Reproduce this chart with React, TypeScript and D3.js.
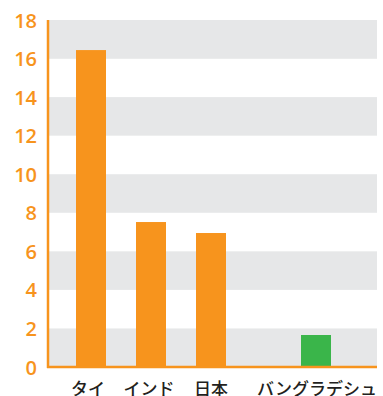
import React from "react";
import * as d3 from "d3";

const categories = ["タイ", "インド", "日本", "バングラデシュ"];
const values = [16.44, 7.52, 6.95, 1.66];
const barColors = ["#F7941D", "#F7941D", "#F7941D", "#3AB54A"];
const yTicks = [0, 2, 4, 6, 8, 10, 12, 14, 16, 18];

const W = 383;
const H = 396;
const left = 48;
const right = 377;
const top = 20;
const bottom = 367;

export default function App() {
  const y = d3.scaleLinear().domain([0, 18]).range([bottom, top]);
  // slot positions: first three evenly spaced, last one offset to leave room for long label
  const slots = [0, 1, 2, 3.75];
  const x = d3.scaleLinear().domain([0, 1]).range([91, 151]);
  const barW = 30;
  const bands = d3.range(0, 18, 4);
  const orange = "#F7941D";
  return (
    <svg width={W} height={H} style={{ position: "absolute", left: 0, top: 0 }}>
      <rect x={0} y={0} width={W} height={H} fill="#fff" />
      {bands.map((b) => (
        <rect key={b} x={left} y={y(b + 2)} width={right - left} height={y(b) - y(b + 2)} fill="#E6E7E8" />
      ))}
      <rect x={left} y={y(18)} width={right - left} height={y(16) - y(18)} fill="#E6E7E8" />
      {categories.map((c, i) => (
        <rect
          key={c}
          x={x(slots[i]) - barW / 2}
          y={y(values[i])}
          width={barW}
          height={y(0) - y(values[i])}
          fill={barColors[i]}
        />
      ))}
      <line x1={left} x2={left} y1={top} y2={bottom + 1} stroke={orange} strokeWidth={2.5} />
      <line x1={left - 1} x2={right} y1={bottom} y2={bottom} stroke={orange} strokeWidth={2.5} />
      {yTicks.map((t) => (
        <text
          key={t}
          x={37}
          y={y(t)}
          textAnchor="end"
          dominantBaseline="central"
          fill={orange}
          fontFamily="'Open Sans', sans-serif"
          fontSize={20}
          fontWeight={600}
        >
          {t}
        </text>
      ))}
      {categories.map((c, i) => (
        <text
          key={c}
          x={x(slots[i]) + (i === 0 ? -3 : i === 1 ? -2 : i === 3 ? 1 : 0)}
          y={387}
          textAnchor="middle"
          dominantBaseline="central"
          fill="#231F20"
          fontFamily="'Noto Sans CJK JP', sans-serif"
          fontSize={17}
          fontWeight={500}
        >
          {c}
        </text>
      ))}
    </svg>
  );
}
